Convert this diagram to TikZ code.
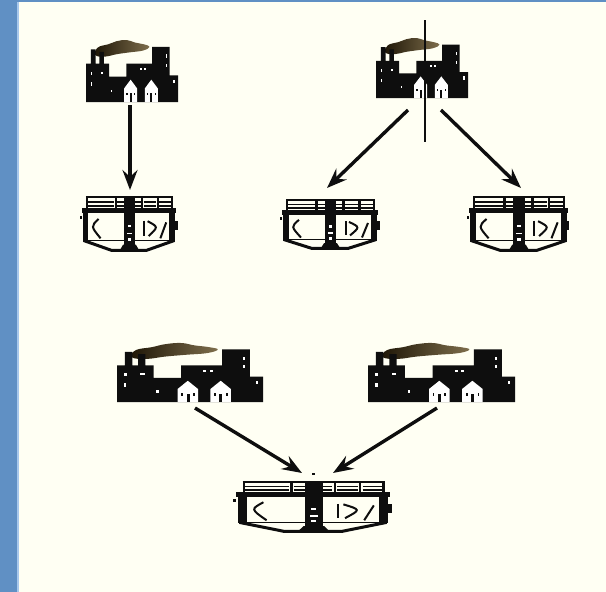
\documentclass[tikz,border=0pt]{standalone}
\usetikzlibrary{arrows.meta}
\definecolor{bgc}{HTML}{FFFFF3}
\definecolor{blu}{HTML}{6090C4}
\definecolor{blulight}{HTML}{A8C8EC}
\definecolor{ink}{HTML}{0E0E0E}
\definecolor{smk1}{HTML}{1E1606}
\definecolor{smk2}{HTML}{7E6E4C}
\tikzset{
  iconbox/.style={inner sep=0pt, outer sep=0pt, draw=none},
  arr/.style={draw=ink, line width=3.4pt, -{Stealth[length=20pt,width=15pt,inset=7pt]}},
  factory/.pic={
    \shade[left color=smk1, right color=smk2]
      plot[smooth cycle, tension=0.7] coordinates {(0.10,0.24) (0.13,0.12) (0.24,0.07) (0.33,0.02) (0.44,0.0) (0.53,0.04) (0.63,0.07) (0.69,0.11) (0.62,0.17) (0.47,0.20) (0.33,0.23) (0.20,0.27)};
    \fill[ink] (0,1) -- (0,0.38) -- (0.054,0.38) -- (0.054,0.15) -- (0.105,0.15) -- (0.105,0.38)
      -- (0.145,0.38) -- (0.145,0.19) -- (0.195,0.19) -- (0.195,0.38) -- (0.25,0.38) -- (0.25,0.59)
      -- (0.44,0.59) -- (0.44,0.38) -- (0.72,0.38) -- (0.72,0.11) -- (0.91,0.11) -- (0.91,0.57)
      -- (1,0.57) -- (1,1) -- cycle;
    \fill[white] (0.05,0.51) rectangle (0.07,0.56);
    \fill[white] (0.16,0.51) rectangle (0.19,0.55);
    \fill[white] (0.05,0.68) rectangle (0.065,0.74);
    \fill[white] (0.27,0.80) rectangle (0.285,0.84);
    \fill[white] (0.59,0.45) rectangle (0.61,0.49);
    \fill[white] (0.635,0.45) rectangle (0.655,0.49);
    \fill[white] (0.865,0.23) rectangle (0.88,0.29);
    \fill[white] (0.865,0.38) rectangle (0.88,0.43);
    \fill[white] (0.95,0.64) rectangle (0.965,0.70);
    \fill[white] (0.415,1) -- (0.415,0.78) -- (0.485,0.64) -- (0.555,0.78) -- (0.555,1) -- cycle;
    \fill[white] (0.64,1) -- (0.64,0.78) -- (0.71,0.64) -- (0.78,0.78) -- (0.78,1) -- cycle;
    \fill[ink] (0.477,0.86) rectangle (0.497,1);
    \fill[ink] (0.44,0.85) rectangle (0.452,0.89);
    \fill[ink] (0.52,0.85) rectangle (0.532,0.89);
    \fill[ink] (0.70,0.86) rectangle (0.72,1);
    \fill[ink] (0.665,0.85) rectangle (0.677,0.89);
    \fill[ink] (0.745,0.85) rectangle (0.757,0.89);
  },
  clarifier/.pic={
    \begin{scope}[draw=ink, fill=ink, line width=2.2pt]
      \draw (0.06,0.04) -- (0.95,0.04);
      \foreach \v in {0.125,0.195}{
        \draw[line width=1.7pt] (0.07,\v) -- (0.35,\v) (0.38,\v) -- (0.46,\v)
          (0.56,\v) -- (0.62,\v) (0.65,\v) -- (0.78,\v) (0.81,\v) -- (0.94,\v);
      }
      \foreach \u in {0.07,0.365,0.635,0.795,0.94}{
        \draw (\u,0.03) -- (\u,0.26);
      }
      \fill (0.02,0.23) rectangle (0.98,0.32);
      \fill (0.03,0.23) rectangle (0.085,0.82);
      \fill (0.91,0.23) rectangle (0.97,0.82);
      \fill (0.97,0.45) rectangle (0.995,0.62);
      \fill (0.0,0.36) rectangle (0.018,0.42);
      \draw[line width=3pt] (0.04,0.80) -- (0.32,0.97) -- (0.68,0.97) -- (0.96,0.80);
      \draw[line width=1.4pt] (0.05,0.80) -- (0.95,0.80);
      \fill (0.45,0.03) rectangle (0.56,0.90);
      \fill[white] (0.49,0.52) rectangle (0.52,0.57);
      \fill[white] (0.48,0.66) rectangle (0.53,0.69);
      \fill[white] (0.49,0.75) rectangle (0.52,0.80);
      \fill (0.40,0.99) -- (0.44,0.87) -- (0.57,0.87) -- (0.61,0.99) -- cycle;
      \draw[line width=2pt] (0.19,0.42) .. controls (0.11,0.55) .. (0.21,0.76);
      \draw[line width=2pt] (0.655,0.45) -- (0.655,0.72);
      \draw[line width=2pt] (0.69,0.46) .. controls (0.80,0.56) .. (0.70,0.72);
      \draw[line width=2pt] (0.82,0.76) -- (0.88,0.48);
    \end{scope}
  }
}
\begin{document}
\begin{tikzpicture}[x=1pt,y=-1pt]
  \useasboundingbox (0,0) rectangle (606,592);
  \fill[bgc] (0,0) rectangle (606,592);
  \fill[blu] (0,0) rectangle (17,592);
  \fill[blu] (0,0) rectangle (606,2);
  \fill[blulight] (17,2) rectangle (18.5,592);

  % icon placeholders
  \node[iconbox, minimum width=92pt, minimum height=62pt] (f1) at (132,71) {};
  \node[iconbox, minimum width=92pt, minimum height=60pt] (f2) at (422,68) {};
  \node[iconbox, minimum width=98pt, minimum height=57pt] (c1) at (129,223.5) {};
  \node[iconbox, minimum width=100pt, minimum height=52pt] (c2) at (330,224) {};
  \node[iconbox, minimum width=103pt, minimum height=57pt] (c3) at (518.5,223.5) {};
  \node[iconbox, minimum width=146pt, minimum height=59pt] (f3) at (190,372.5) {};
  \node[iconbox, minimum width=147pt, minimum height=59pt] (f4) at (441.5,372.5) {};
  \node[iconbox, minimum width=160pt, minimum height=53pt] (c4) at (313,506.5) {};

  \pic[xscale=92, yscale=62] at (f1.north west) {factory};
  \pic[xscale=92, yscale=60] at (f2.north west) {factory};
  \pic[xscale=146, yscale=59] at (f3.north west) {factory};
  \pic[xscale=147, yscale=59] at (f4.north west) {factory};
  \pic[xscale=98, yscale=57] at (c1.north west) {clarifier};
  \pic[xscale=100, yscale=52] at (c2.north west) {clarifier};
  \pic[xscale=103, yscale=57] at (c3.north west) {clarifier};
  \pic[xscale=160, yscale=53] at (c4.north west) {clarifier};

  % small mark above the lower clarifier
  \fill[ink] ([shift={(-1.5,-7)}]c4.north) rectangle ([shift={(1.5,-5.5)}]c4.north);

  % vertical divider through the upper right factory
  \coordinate (vt) at (425,20);
  \coordinate (vb) at (425,142);
  \draw[ink, line width=1.8pt] (vt) -- (vb);

  % connectors
  \draw[arr] ([shift={(-2,3)}]f1.south) -- ([shift={(1,-5)}]c1.north);
  \draw[arr] ([shift={(-14,12)}]f2.south) -- ([shift={(-3,-10)}]c2.north);
  \draw[arr] ([shift={(19,12)}]f2.south) -- ([shift={(2.5,-7)}]c3.north);
  \draw[arr] ([shift={(5,6)}]f3.south) -- ([shift={(-11,-7)}]c4.north);
  \draw[arr] ([shift={(-4.5,6)}]f4.south) -- ([shift={(20,-7)}]c4.north);
\end{tikzpicture}
\end{document}
